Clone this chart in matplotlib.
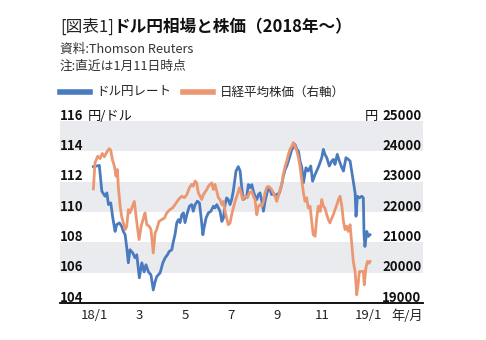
import matplotlib
matplotlib.use('Agg')
import matplotlib.pyplot as plt
from matplotlib.lines import Line2D

plt.rcParams['font.family'] = ['Noto Sans CJK JP', 'DejaVu Sans']

# x is months counted from the "18/1" tick (0 = Jan 2018, 12 = Jan 2019)
usd_m = [-0.03, 0.23, 0.34, 0.48, 0.56, 0.63, 0.73, 0.82, 0.92, 0.99,
         1.11, 1.21, 1.28, 1.36, 1.43, 1.50, 1.57, 1.69, 1.79, 1.87,
         1.98, 2.09, 2.19, 2.27, 2.38, 2.49, 2.59, 2.67, 2.74, 2.89,
         3.01, 3.11, 3.21, 3.29, 3.40, 3.47, 3.54, 3.62, 3.69, 3.76,
         3.84, 3.91, 3.98, 4.06, 4.17, 4.27, 4.34, 4.42, 4.52, 4.61,
         4.67, 4.76, 4.81, 4.90, 5.00, 5.11, 5.22, 5.29, 5.37, 5.44,
         5.51, 5.59, 5.66, 5.73, 5.80, 5.87, 5.95, 6.02, 6.09, 6.21,
         6.31, 6.39, 6.46, 6.53, 6.61, 6.68, 6.75, 6.82, 6.90, 6.97,
         7.04, 7.12, 7.19, 7.26, 7.34, 7.41, 7.48, 7.55, 7.62, 7.70,
         7.77, 7.84, 7.92, 7.99, 8.11, 8.21, 8.28, 8.36, 8.43, 8.50,
         8.57, 8.65, 8.72, 8.79, 8.87, 8.94, 9.01, 9.09, 9.16, 9.27,
         9.37, 9.48, 9.56, 9.67, 9.77, 9.86, 9.96, 10.03, 10.10, 10.18,
         10.29, 10.40, 10.47, 10.54, 10.64, 10.73, 10.84, 10.91, 11.02, 11.12,
         11.20, 11.27, 11.34, 11.42, 11.46, 11.52, 11.61, 11.71, 11.78, 11.81,
         11.85, 11.93, 12.00, 12.07]
usd_val = [112.99, 113.07, 111.37, 111.04, 111.26, 110.49, 110.60, 109.61, 108.72, 109.17,
           109.28, 109.05, 108.72, 108.50, 107.64, 106.65, 107.51, 107.31, 106.98, 107.18,
           105.66, 106.65, 106.05, 106.52, 106.05, 105.85, 104.86, 105.39, 105.74, 105.99,
           106.65, 106.98, 107.18, 107.40, 107.51, 108.06, 108.50, 109.30, 109.50, 109.30,
           109.83, 109.94, 109.30, 109.83, 110.38, 110.49, 110.05, 110.49, 110.71, 110.60,
           109.83, 108.50, 108.95, 109.61, 109.94, 110.05, 110.38, 110.27, 110.49, 110.27,
           110.05, 109.38, 109.61, 110.49, 110.93, 110.82, 110.49, 110.82, 111.37, 112.70,
           112.99, 112.70, 111.60, 110.82, 110.93, 111.04, 111.81, 111.60, 111.81, 111.37,
           111.04, 110.82, 111.15, 111.26, 110.71, 110.05, 110.71, 111.15, 111.60, 111.48,
           111.15, 111.26, 111.04, 111.15, 111.26, 111.81, 112.36, 112.81, 113.03, 113.36,
           113.69, 114.13, 114.25, 114.46, 114.13, 114.02, 113.36, 112.92, 111.93, 112.92,
           112.70, 113.03, 112.03, 112.48, 112.81, 113.14, 113.58, 114.13, 113.80, 113.58,
           113.03, 113.36, 113.47, 113.14, 113.80, 113.36, 112.92, 112.70, 113.58, 113.47,
           113.36, 112.70, 112.03, 111.26, 109.72, 111.04, 110.93, 111.04, 110.93, 108.50,
           107.73, 108.72, 108.39, 108.50]

nk_m = [-0.03, 0.04, 0.16, 0.26, 0.36, 0.45, 0.56, 0.66, 0.73, 0.80,
        0.89, 0.96, 1.02, 1.06, 1.14, 1.21, 1.28, 1.36, 1.43, 1.50,
        1.57, 1.68, 1.76, 1.82, 1.89, 1.97, 2.06, 2.16, 2.23, 2.31,
        2.41, 2.49, 2.59, 2.67, 2.74, 2.84, 2.96, 3.08, 3.18, 3.32,
        3.43, 3.54, 3.69, 3.84, 3.95, 4.06, 4.17, 4.27, 4.34, 4.42,
        4.49, 4.56, 4.64, 4.71, 4.78, 4.93, 5.00, 5.07, 5.15, 5.22,
        5.29, 5.37, 5.44, 5.51, 5.59, 5.66, 5.73, 5.80, 5.87, 5.95,
        6.02, 6.09, 6.17, 6.27, 6.36, 6.43, 6.50, 6.61, 6.71, 6.79,
        6.90, 6.97, 7.04, 7.12, 7.19, 7.26, 7.34, 7.41, 7.48, 7.55,
        7.62, 7.70, 7.77, 7.84, 7.92, 7.99, 8.06, 8.14, 8.21, 8.28,
        8.36, 8.43, 8.50, 8.57, 8.65, 8.72, 8.79, 8.87, 8.94, 9.01,
        9.09, 9.16, 9.23, 9.30, 9.37, 9.45, 9.52, 9.59, 9.67, 9.74,
        9.81, 9.89, 9.96, 10.03, 10.10, 10.18, 10.25, 10.32, 10.40, 10.47,
        10.54, 10.62, 10.69, 10.76, 10.84, 10.91, 10.98, 11.05, 11.12, 11.20,
        11.27, 11.34, 11.42, 11.49, 11.54, 11.61, 11.71, 11.78, 11.82, 11.89,
        11.96, 12.03, 12.07]
nk_val = [22760, 23620, 23840, 23760, 23930, 23820, 23980, 24090, 24040, 23730,
          23510, 23180, 23400, 22850, 22190, 21840, 21640, 21420, 21530, 22080,
          21970, 22190, 22350, 21970, 21530, 21090, 21530, 21800, 21970, 21580,
          21530, 21420, 20650, 21310, 21420, 21690, 21750, 21800, 21970, 22080,
          22130, 22240, 22410, 22520, 22470, 22570, 22800, 22910, 22850, 23020,
          22960, 22630, 22520, 22410, 22570, 22740, 22850, 22910, 22960, 22740,
          22910, 22680, 22470, 22410, 22240, 22350, 22020, 21800, 21580, 21640,
          21910, 22130, 22350, 22570, 22800, 22630, 22410, 22520, 22470, 22630,
          22680, 22520, 22410, 21910, 22190, 22240, 22190, 22350, 22630, 22800,
          22850, 22800, 22740, 22630, 22520, 22350, 22520, 22740, 22910, 23240,
          23510, 23680, 23900, 24060, 24170, 24290, 24170, 24010, 23790, 23510,
          23020, 22630, 22350, 22470, 22130, 22190, 21690, 21250, 21200, 21800,
          22190, 22020, 22410, 22190, 22130, 21910, 21750, 21640, 21800, 21910,
          22080, 22240, 22410, 22520, 22190, 21690, 21420, 21530, 21360, 21580,
          20980, 20370, 20040, 19270, 19540, 20040, 20040, 20040, 19600, 20150,
          20370, 20310, 20370]

x_ticks = [0, 2, 4, 6, 8, 10, 12]
x_labels = ['18/1', '3', '5', '7', '9', '11', '19/1']
left_ticks = [104, 106, 108, 110, 112, 114, 116]
right_ticks = [19000, 20000, 21000, 22000, 23000, 24000, 25000]
bands = [(106, 108), (110, 112), (114, 116)]

blue = '#4b7bbf'
orange = '#eb9872'
band_col = '#e9ebee'
W, H = 486, 340

fig = plt.figure(figsize=(W / 100, H / 100), dpi=100)
fig.patch.set_facecolor('white')

ax = fig.add_axes([60 / W, 1 - 303 / H, 363 / W, (303 - 121) / H])

# title / notes
t1 = fig.text(60 / W, 1 - 27 / H, '[図表1]', fontsize=12, va='center', color='#222222')
ax.annotate('ドル円相場と株価（2018年〜）', xy=(1, 0.5), xycoords=t1, va='center', ha='left',
            fontsize=12, fontweight='bold', color='#111111', annotation_clip=False)
fig.text(60 / W, 1 - 49 / H, '資料:Thomson Reuters', fontsize=9.2, va='center', color='#333333')
fig.text(60 / W, 1 - 66 / H, '注:直近は1月11日時点', fontsize=9.2, va='center', color='#333333')

# legend
ly = 1 - 92 / H
fig.add_artist(Line2D([60 / W, 90 / W], [ly, ly], lw=4, color=blue))
fig.text(96 / W, ly, 'ドル円レート', fontsize=9, va='center', color='#222222')
fig.add_artist(Line2D([183 / W, 213 / W], [ly, ly], lw=4, color=orange))
fig.text(220 / W, ly, '日経平均株価（右軸）', fontsize=9, va='center', color='#222222')

ax.set_xlim(-1.49, 14.39)
ax.set_ylim(104, 116)
for lo, hi in bands:
    ax.axhspan(lo, hi, color=band_col, lw=0, zorder=0)
ax.plot(usd_m, usd_val, color=blue, lw=2.0, zorder=3)

ax2 = ax.twinx()
ax2.set_ylim(19000, 25000)
ax2.plot(nk_m, nk_val, color=orange, lw=2.0, zorder=3)

for a in (ax, ax2):
    for s in a.spines.values():
        s.set_visible(False)
    a.set_yticks([])
ax.spines['bottom'].set_visible(True)
ax.spines['bottom'].set_color('black')
ax.spines['bottom'].set_linewidth(1.3)

ax.set_xticks(x_ticks)
ax.set_xticklabels(x_labels, fontsize=9.5, color='#222222')
ax.tick_params(axis='x', length=0, pad=4.5)
ax.annotate('年/月', xy=(13.69, 0), xycoords=ax.get_xaxis_transform(), xytext=(0, -4.5),
            textcoords='offset points', ha='center', va='top', fontsize=9.5, color='#222222',
            annotation_clip=False)

ytr = ax.get_yaxis_transform()
for v in left_ticks:
    t = ax.annotate(str(v), xy=(0, v), xycoords=ytr, xytext=(0, 1), textcoords='offset points',
                    ha='left', va='baseline', fontsize=9.5, fontweight='bold', color='#111111',
                    annotation_clip=False)
    if v == 116:
        ax.annotate('円/ドル', xy=(1, v), xycoords=(t, 'data'), xytext=(3, 1),
                    textcoords='offset points', ha='left', va='baseline', fontsize=9.5,
                    color='#111111', annotation_clip=False)

ytr2 = ax2.get_yaxis_transform()
for v in right_ticks:
    t = ax2.annotate(str(v), xy=(1, v), xycoords=ytr2, xytext=(-1, 1), textcoords='offset points',
                     ha='right', va='baseline', fontsize=9.5, fontweight='bold', color='#111111',
                     annotation_clip=False)
    if v == 25000:
        ax2.annotate('円', xy=(0, v), xycoords=(t, 'data'), xytext=(-3, 1),
                     textcoords='offset points', ha='right', va='baseline', fontsize=9.5,
                     color='#111111', annotation_clip=False)

fig.savefig('out.png', dpi=100)
